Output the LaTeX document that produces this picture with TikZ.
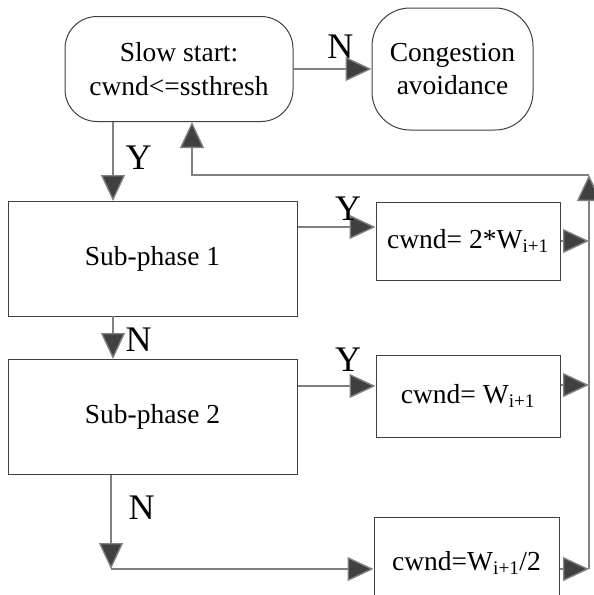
\documentclass[tikz,border=0pt]{standalone}
\usepackage{fontspec}
\setmainfont{Liberation Serif}
\usetikzlibrary{arrows.meta}

\begin{document}
\begin{tikzpicture}[x=1pt,y=-1pt,
	box/.style={draw=black!75, line width=1pt, align=center, inner sep=0pt, font=\fontsize{27.5}{33.5}\selectfont},
	lbl/.style={font=\fontsize{36}{40}\selectfont, inner sep=0pt},
	conn/.style={draw=black!50, line width=1.4pt, -{Triangle[length=26pt,width=24pt,fill=black!75]}}]
	\useasboundingbox (0,0) rectangle (594,595);
	
	\node[box, rounded corners=32pt, minimum width=228pt, minimum height=105pt] (slow) at (179,69) {Slow start:\\cwnd<=ssthresh};
	\node[box, rounded corners=38pt, minimum width=161pt, minimum height=122pt] (cong) at (452.5,69) {Congestion\\avoidance};
	\node[box, minimum width=289pt, minimum height=115pt] (sp1) at (152.5,258.5) {Sub-phase 1};
	\node[box, minimum width=289pt, minimum height=115pt] (sp2) at (152.5,416.5) {Sub-phase 2};
	\node[box, minimum width=184pt, minimum height=78pt] (b1) at (468,241) {cwnd= 2*W\textsubscript{i+1}};
	\node[box, minimum width=184pt, minimum height=82pt] (b2) at (468,396) {cwnd= W\textsubscript{i+1}};
	\node[box, minimum width=185pt, minimum height=92pt] (b3) at (466.5,563) {cwnd=W\textsubscript{i+1}/2};
	
	\coordinate (turn) at (111,569);
	\coordinate (bustop) at (589,175);
	\coordinate (back) at (192,175);
	
	\draw[conn] (slow.east) -- (cong.west) node[lbl, pos=0.6, above=10pt]{N};
	\draw[conn] (113,122) -- (113,201) node[lbl, pos=0.45, right=12pt]{Y};
	\draw[conn] (113,316) -- (113,359) node[lbl, pos=0.55, right=12pt]{N};
	\draw[conn] (sp1.east |- 0,227) -- (b1.west |- 0,227) node[lbl, pos=0.65, above=6pt]{Y};
	\draw[conn] (sp2.east |- 0,386) -- (b2.west |- 0,386) node[lbl, pos=0.65, above=14pt]{Y};
	\draw[conn] (sp2.south -| turn) -- (turn) node[lbl, pos=0.35, right=17pt]{N};
	\draw[conn] (turn) -- (b3.west |- turn);
	
	% back to slow start
	\draw[conn] (b1.east) -- (b1.east -| bustop);
	\draw[conn] (b2.east |- 0,385) -- (bustop |- 0,385);
	\draw[conn] (b3.east |- turn) -- (bustop |- turn);
	\draw[conn] (bustop |- turn) -- (bustop);
	\draw[conn] (bustop) -- (back) -- (back |- slow.south);
\end{tikzpicture}
\end{document}
